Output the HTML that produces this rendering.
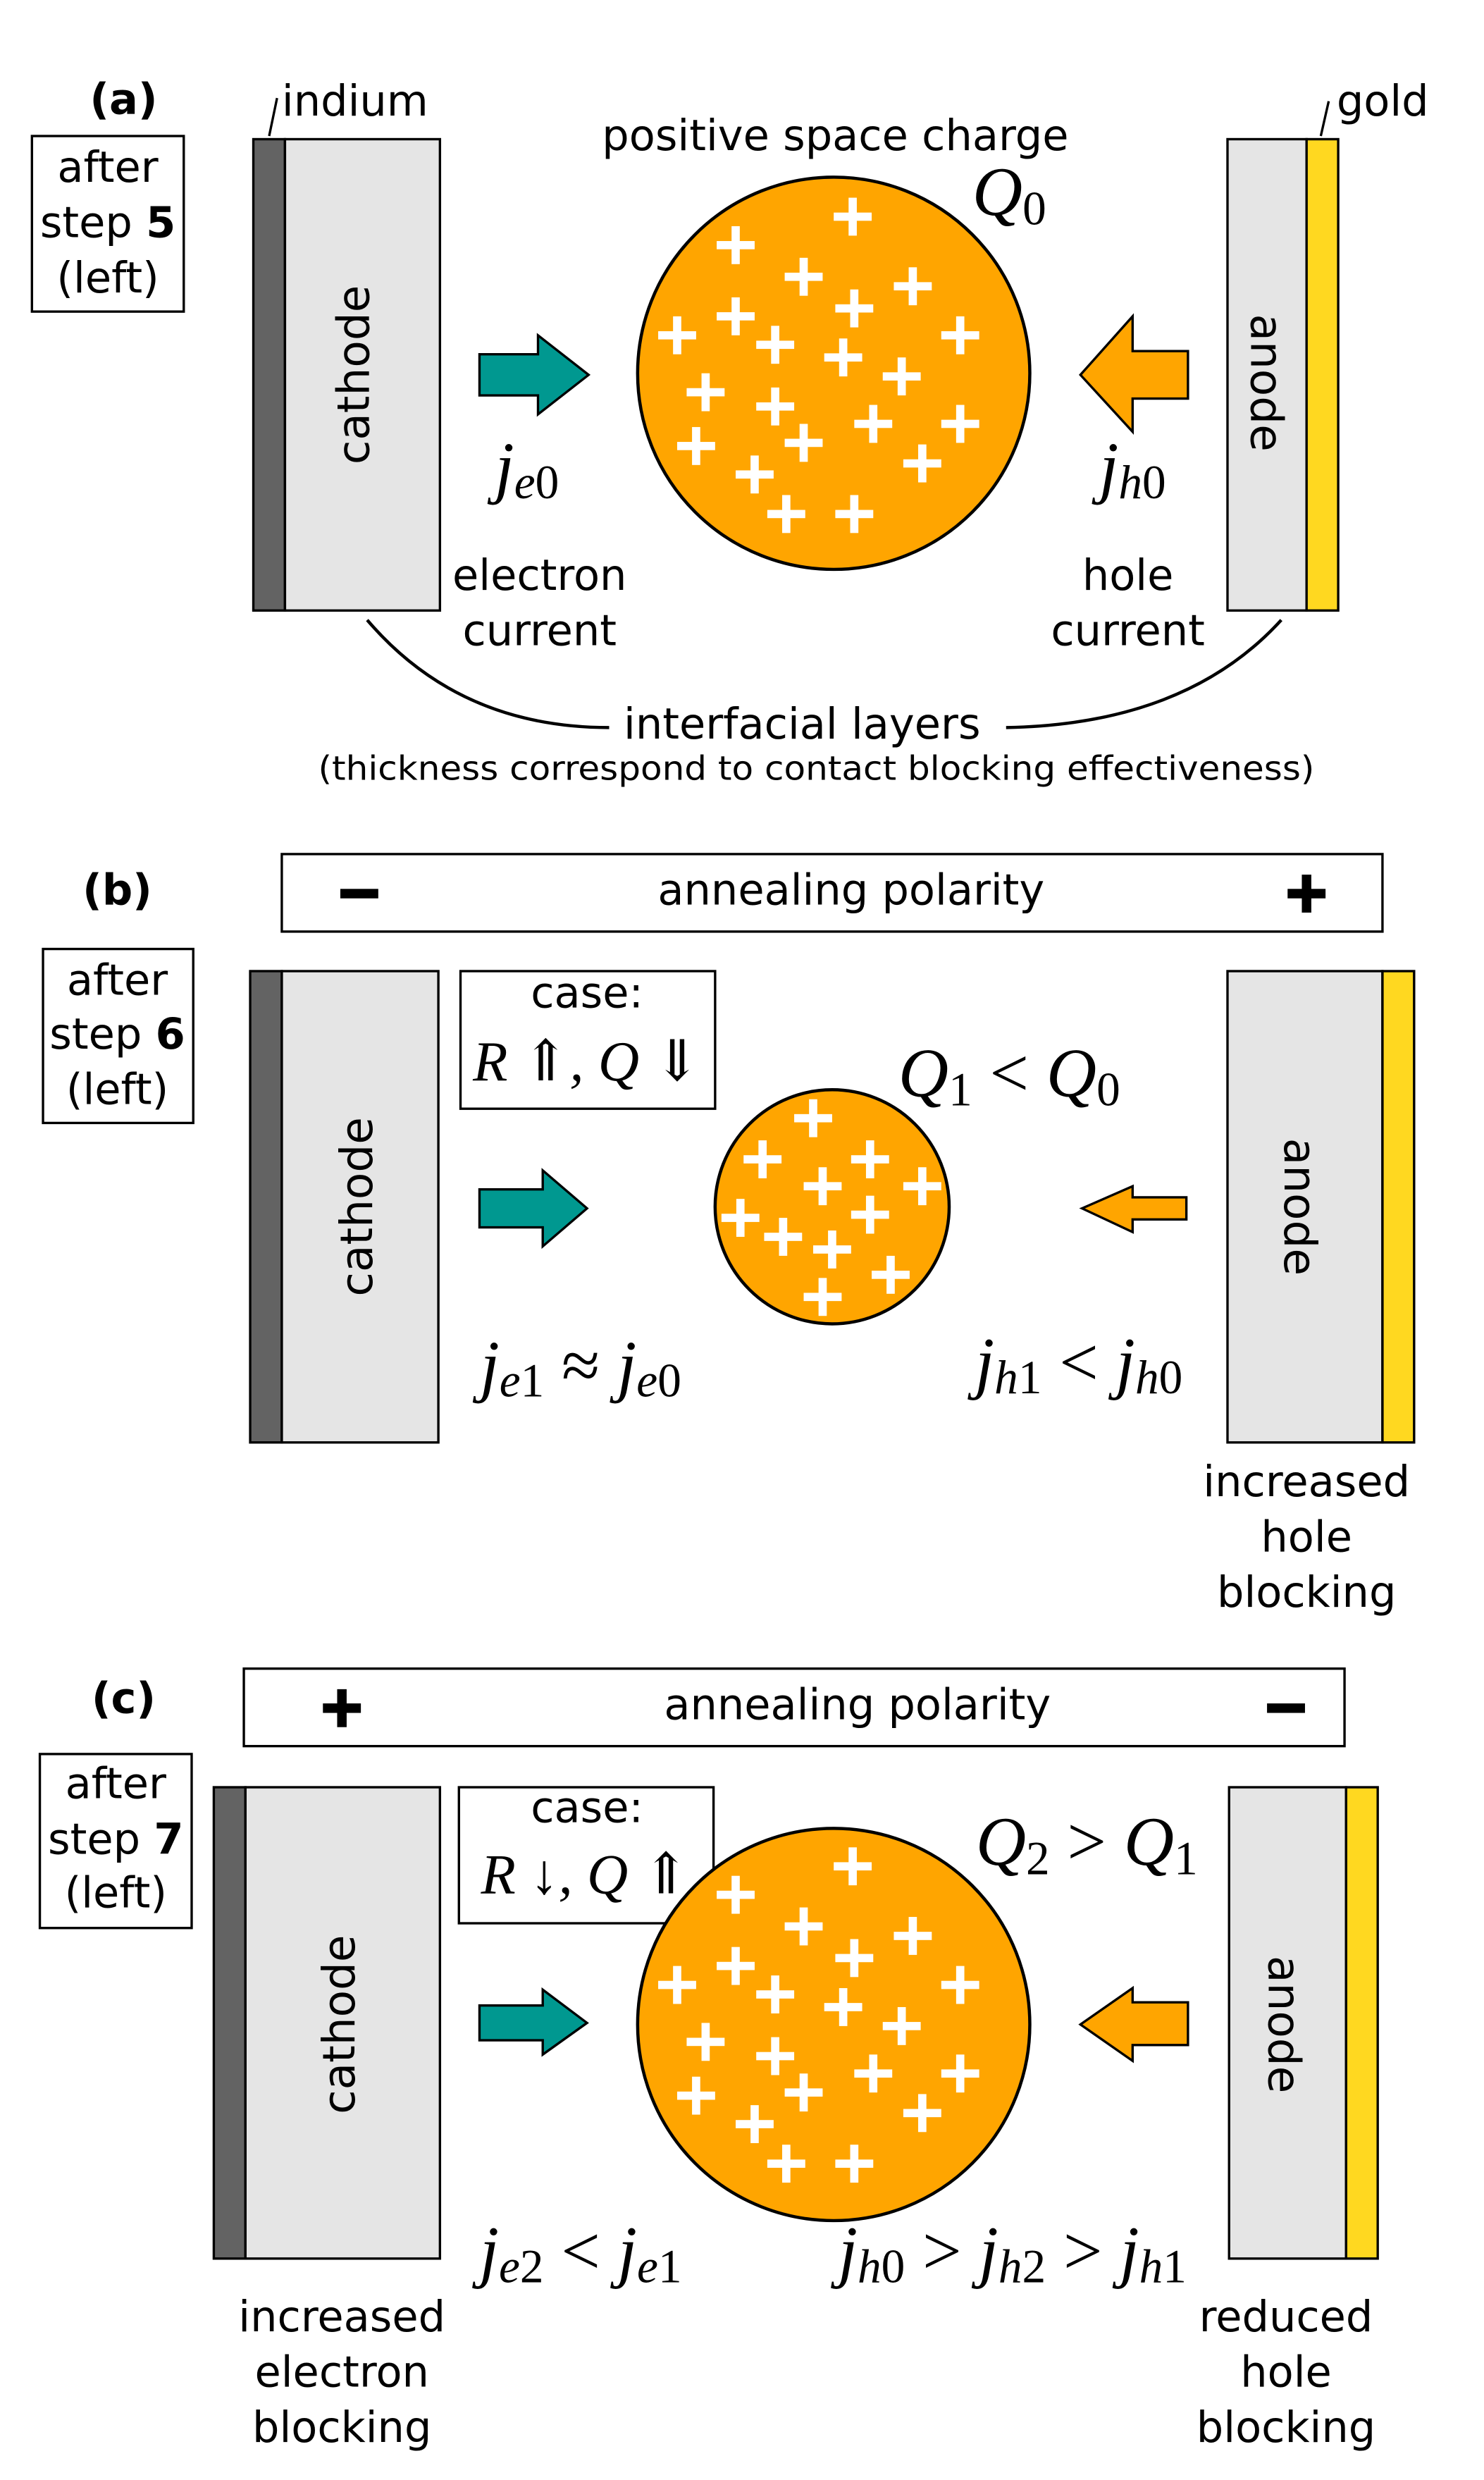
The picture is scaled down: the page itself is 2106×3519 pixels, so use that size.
<!DOCTYPE html>
<html><head><meta charset="utf-8"><style>
html,body{margin:0;padding:0;background:#fff;}
svg{display:block;}
.t{font-family:"DejaVu Sans","Liberation Sans",sans-serif;font-size:27px;fill:#000;text-anchor:middle;}
.m{font-family:"Liberation Serif","DejaVu Serif",serif;font-style:italic;font-size:44px;fill:#000;text-anchor:middle;}
.r{font-style:normal;}
</style></head><body>
<svg width="2106" height="3519" viewBox="0 0 938 1568" xmlns="http://www.w3.org/2000/svg">
<defs>
<g id="p"><rect x="-12" y="-2.6" width="24" height="5.2" fill="#fff"/><rect x="-2.6" y="-12" width="5.2" height="24" fill="#fff"/></g>
</defs>
<rect width="938" height="1568" fill="#fff"/>

<!-- ===== (a) ===== -->
<text class="t" x="78" y="72" font-weight="bold">(a)</text>
<rect x="20" y="86" width="96" height="111" fill="#fff" stroke="#000" stroke-width="1.5"/>
<text class="t" x="68" y="115">after</text>
<text class="t" x="68" y="150">step <tspan font-weight="bold">5</tspan></text>
<text class="t" x="68" y="185">(left)</text>

<rect x="160" y="88" width="20" height="298" fill="#636363" stroke="#000" stroke-width="1.5"/>
<rect x="180" y="88" width="98" height="298" fill="#e5e5e5" stroke="#000" stroke-width="1.5"/>
<text class="t" x="0" y="0" transform="translate(233,237) rotate(-90)" style="font-size:28px">cathode</text>
<line x1="170" y1="86" x2="175" y2="62" stroke="#000" stroke-width="1.5"/>
<text class="t" x="178" y="73" style="text-anchor:start">indium</text>

<circle cx="527" cy="236" r="124" fill="#FFA500" stroke="#000" stroke-width="2"/>
<g id="pa">
<use href="#p" x="539" y="137"/><use href="#p" x="465" y="155"/><use href="#p" x="577" y="181"/><use href="#p" x="508" y="175"/>
<use href="#p" x="540" y="195"/><use href="#p" x="465" y="200"/><use href="#p" x="428" y="212"/><use href="#p" x="490" y="218"/>
<use href="#p" x="533" y="226"/><use href="#p" x="607" y="212"/><use href="#p" x="570" y="238"/><use href="#p" x="446" y="248"/>
<use href="#p" x="490" y="257"/><use href="#p" x="552" y="268"/><use href="#p" x="508" y="280"/><use href="#p" x="607" y="268"/>
<use href="#p" x="440" y="282"/><use href="#p" x="583" y="293"/><use href="#p" x="477" y="300"/><use href="#p" x="497" y="325"/>
<use href="#p" x="540" y="325"/>
</g>
<text class="t" x="528" y="95">positive space charge</text>
<text class="m" x="638" y="136">Q<tspan class="r" font-size="30" dy="6">0</tspan></text>

<path d="M303,224 H340 V212 L372,237 L340,262 V250 H303 Z" fill="#009890" stroke="#000" stroke-width="1.5"/>
<text class="m" x="333" y="310">j<tspan font-size="30" dy="5">e</tspan><tspan class="r" font-size="30">0</tspan></text>
<text class="t" x="341" y="373">electron</text>
<text class="t" x="341" y="408">current</text>

<path d="M683,237 L716,200 V222 H751 V252 H716 V273 Z" fill="#FFA500" stroke="#000" stroke-width="1.5"/>
<text class="m" x="716" y="310">j<tspan font-size="30" dy="5">h</tspan><tspan class="r" font-size="30">0</tspan></text>
<text class="t" x="713" y="373">hole</text>
<text class="t" x="713" y="408">current</text>

<rect x="776" y="88" width="50" height="298" fill="#e5e5e5" stroke="#000" stroke-width="1.5"/>
<rect x="826" y="88" width="20" height="298" fill="#FFD820" stroke="#000" stroke-width="1.5"/>
<text class="t" x="0" y="0" transform="translate(791,242) rotate(90)" style="font-size:28px">anode</text>
<line x1="835" y1="86" x2="840" y2="64" stroke="#000" stroke-width="1.5"/>
<text class="t" x="845" y="73" style="text-anchor:start">gold</text>

<path d="M232,392 Q290,460 385,460" fill="none" stroke="#000" stroke-width="2"/>
<path d="M636,460 Q750,458 810,392" fill="none" stroke="#000" stroke-width="2"/>
<text class="t" x="507" y="467">interfacial layers</text>
<text class="t" x="516" y="493" style="font-size:21px" textLength="630" lengthAdjust="spacingAndGlyphs">(thickness correspond to contact blocking effectiveness)</text>

<!-- ===== (b) ===== -->
<text class="t" x="74" y="572" font-weight="bold">(b)</text>
<rect x="178" y="540" width="696" height="49" fill="#fff" stroke="#000" stroke-width="1.5"/>
<rect x="215" y="562" width="24" height="6" fill="#000"/>
<rect x="814" y="562" width="24" height="6" fill="#000"/><rect x="823" y="553" width="6" height="24" fill="#000"/>
<text class="t" x="538" y="572">annealing polarity</text>

<rect x="27" y="600" width="95" height="110" fill="#fff" stroke="#000" stroke-width="1.5"/>
<text class="t" x="74" y="629">after</text>
<text class="t" x="74" y="663">step <tspan font-weight="bold">6</tspan></text>
<text class="t" x="74" y="698">(left)</text>

<rect x="158" y="614" width="20" height="298" fill="#636363" stroke="#000" stroke-width="1.5"/>
<rect x="178" y="614" width="99" height="298" fill="#e5e5e5" stroke="#000" stroke-width="1.5"/>
<text class="t" x="0" y="0" transform="translate(235,763) rotate(-90)" style="font-size:28px">cathode</text>

<rect x="291" y="614" width="161" height="87" fill="#fff" stroke="#000" stroke-width="1.5"/>
<text class="t" x="371" y="637">case:</text>
<text class="m" x="371" y="683" style="font-size:36px">R <tspan class="r">⇑</tspan>, Q <tspan class="r">⇓</tspan></text>

<path d="M303,752 H343 V740 L371,764 L343,788 V776 H303 Z" fill="#009890" stroke="#000" stroke-width="1.5"/>

<circle cx="526" cy="763" r="74" fill="#FFA500" stroke="#000" stroke-width="2"/>
<use href="#p" x="514" y="707"/><use href="#p" x="482" y="733"/><use href="#p" x="550" y="733"/><use href="#p" x="520" y="750"/>
<use href="#p" x="583" y="750"/><use href="#p" x="468" y="770"/><use href="#p" x="495" y="782"/><use href="#p" x="550" y="768"/>
<use href="#p" x="526" y="790"/><use href="#p" x="563" y="806"/><use href="#p" x="520" y="820"/>
<text class="m" x="638" y="693">Q<tspan class="r" font-size="30" dy="6">1</tspan><tspan class="r" dy="-6"> &lt; </tspan>Q<tspan class="r" font-size="30" dy="6">0</tspan></text>

<path d="M684,764 L716,750 V757 H750 V771 H716 V779 Z" fill="#FFA500" stroke="#000" stroke-width="1.5"/>
<text class="m" x="367" y="878">j<tspan font-size="30" dy="5">e</tspan><tspan class="r" font-size="30">1</tspan><tspan class="r" dy="-5"> ≈ </tspan>j<tspan font-size="30" dy="5">e</tspan><tspan class="r" font-size="30">0</tspan></text>
<text class="m" x="682" y="876">j<tspan font-size="30" dy="5">h</tspan><tspan class="r" font-size="30">1</tspan><tspan class="r" dy="-5"> &lt; </tspan>j<tspan font-size="30" dy="5">h</tspan><tspan class="r" font-size="30">0</tspan></text>

<rect x="776" y="614" width="98" height="298" fill="#e5e5e5" stroke="#000" stroke-width="1.5"/>
<rect x="874" y="614" width="20" height="298" fill="#FFD820" stroke="#000" stroke-width="1.5"/>
<text class="t" x="0" y="0" transform="translate(812,763) rotate(90)" style="font-size:28px">anode</text>
<text class="t" x="826" y="946">increased</text>
<text class="t" x="826" y="981">hole</text>
<text class="t" x="826" y="1016">blocking</text>

<!-- ===== (c) ===== -->
<text class="t" x="78" y="1083" font-weight="bold">(c)</text>
<rect x="154" y="1055" width="696" height="49" fill="#fff" stroke="#000" stroke-width="1.5"/>
<rect x="204" y="1077" width="24" height="6" fill="#000"/><rect x="213" y="1068" width="6" height="24" fill="#000"/>
<rect x="801" y="1077" width="24" height="6" fill="#000"/>
<text class="t" x="542" y="1087">annealing polarity</text>

<rect x="25" y="1109" width="96" height="110" fill="#fff" stroke="#000" stroke-width="1.5"/>
<text class="t" x="73" y="1137">after</text>
<text class="t" x="73" y="1172">step <tspan font-weight="bold">7</tspan></text>
<text class="t" x="73" y="1206">(left)</text>

<rect x="135" y="1130" width="20" height="298" fill="#636363" stroke="#000" stroke-width="1.5"/>
<rect x="155" y="1130" width="123" height="298" fill="#e5e5e5" stroke="#000" stroke-width="1.5"/>
<text class="t" x="0" y="0" transform="translate(224,1280) rotate(-90)" style="font-size:28px">cathode</text>

<rect x="290" y="1130" width="161" height="86" fill="#fff" stroke="#000" stroke-width="1.5"/>
<text class="t" x="371" y="1152">case:</text>
<text class="m" x="370" y="1197" style="font-size:36px">R <tspan class="r">↓</tspan>, Q <tspan class="r">⇑</tspan></text>

<path d="M303,1268 H343 V1258 L371,1279 L343,1299 V1290 H303 Z" fill="#009890" stroke="#000" stroke-width="1.5"/>

<circle cx="527" cy="1280" r="124" fill="#FFA500" stroke="#000" stroke-width="2"/>
<use href="#pa" x="0" y="1043"/>
<text class="m" x="687" y="1179">Q<tspan class="r" font-size="30" dy="6">2</tspan><tspan class="r" dy="-6"> &gt; </tspan>Q<tspan class="r" font-size="30" dy="6">1</tspan></text>

<path d="M683,1280 L716,1257 V1266 H751 V1293 H716 V1303 Z" fill="#FFA500" stroke="#000" stroke-width="1.5"/>
<text class="m" x="367" y="1438">j<tspan font-size="30" dy="5">e</tspan><tspan class="r" font-size="30">2</tspan><tspan class="r" dy="-5"> &lt; </tspan>j<tspan font-size="30" dy="5">e</tspan><tspan class="r" font-size="30">1</tspan></text>
<text class="m" x="640" y="1438">j<tspan font-size="30" dy="5">h</tspan><tspan class="r" font-size="30">0</tspan><tspan class="r" dy="-5"> &gt; </tspan>j<tspan font-size="30" dy="5">h</tspan><tspan class="r" font-size="30">2</tspan><tspan class="r" dy="-5"> &gt; </tspan>j<tspan font-size="30" dy="5">h</tspan><tspan class="r" font-size="30">1</tspan></text>

<rect x="777" y="1130" width="74" height="298" fill="#e5e5e5" stroke="#000" stroke-width="1.5"/>
<rect x="851" y="1130" width="20" height="298" fill="#FFD820" stroke="#000" stroke-width="1.5"/>
<text class="t" x="0" y="0" transform="translate(802,1280) rotate(90)" style="font-size:28px">anode</text>

<text class="t" x="216" y="1474">increased</text>
<text class="t" x="216" y="1509">electron</text>
<text class="t" x="216" y="1544">blocking</text>
<text class="t" x="813" y="1474">reduced</text>
<text class="t" x="813" y="1509">hole</text>
<text class="t" x="813" y="1544">blocking</text>
</svg>
</body></html>
